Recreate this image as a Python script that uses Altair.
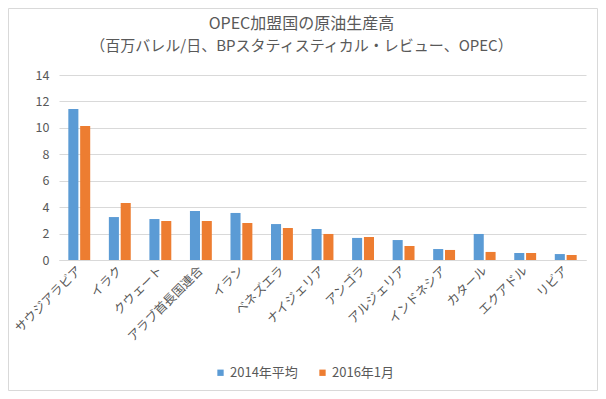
import altair as alt
import pandas as pd

countries = ["サウジアラビア", "イラク", "クウェート", "アラブ首長国連合", "イラン", "ベネズエラ",
             "ナイジェリア", "アンゴラ", "アルジェリア", "インドネシア", "カタール", "エクアドル", "リビア"]
avg2014 = [11.43, 3.25, 3.10, 3.71, 3.56, 2.72, 2.35, 1.67, 1.51, 0.83, 1.97, 0.53, 0.45]
jan2016 = [10.14, 4.31, 2.95, 2.95, 2.80, 2.42, 1.97, 1.74, 1.06, 0.76, 0.61, 0.53, 0.38]
series = ["2014年平均", "2016年1月"]
colors = ["#5B9BD5", "#ED7D31"]
y_ticks = [0, 2, 4, 6, 8, 10, 12, 14]
title_lines = ["OPEC加盟国の原油生産高", "（百万バレル/日、BPスタティスティカル・レビュー、OPEC）"]

rows = []
for c, a, b in zip(countries, avg2014, jan2016):
    rows.append({"country": c, "series": series[0], "value": a})
    rows.append({"country": c, "series": series[1], "value": b})
df = pd.DataFrame(rows)

FONT = "Noto Sans CJK JP"
GRAY = "#595959"

bars = alt.Chart(df).mark_bar().encode(
    x=alt.X("country:N", sort=countries, title=None,
            scale=alt.Scale(paddingInner=0.46, paddingOuter=0.23),
            axis=alt.Axis(labelAngle=-45, labelAlign="right", labelBaseline="middle",
                          labelPadding=8, ticks=False, domainColor="#d9d9d9",
                          labelColor=GRAY, labelFontSize=12.5, labelFont=FONT)),
    xOffset=alt.XOffset("series:N", sort=series, scale=alt.Scale(paddingInner=0.15)),
    y=alt.Y("value:Q", title=None, scale=alt.Scale(domain=[0, 14], nice=False),
            axis=alt.Axis(values=y_ticks, grid=True, gridColor="#d9d9d9", domain=False,
                          ticks=False, labelPadding=10, labelColor=GRAY,
                          labelFontSize=12.5, labelFont=FONT)),
    color=alt.Color("series:N", sort=series,
                    scale=alt.Scale(domain=series, range=colors),
                    legend=alt.Legend(title=None, orient="none", direction="horizontal",
                                      legendX=155, legendY=291, symbolType="square",
                                      symbolSize=40, symbolStrokeWidth=0,
                                      labelFontSize=13, labelColor=GRAY, labelFont=FONT,
                                      columnPadding=18, labelOffset=3)),
)

border = alt.Chart(pd.DataFrame({"b": [0]})).mark_rect(
    fill=None, stroke="#d9d9d9", strokeWidth=1
).encode(x=alt.value(-50.5), x2=alt.value(538.5), y=alt.value(-66.5), y2=alt.value(315.5))

title1 = alt.Chart(pd.DataFrame({"t": [title_lines[0]]})).mark_text(
    font=FONT, fontSize=16, color=GRAY, align="center", baseline="middle"
).encode(text="t:N", x=alt.value(242.5), y=alt.value(-51))

title2 = alt.Chart(pd.DataFrame({"t": [title_lines[1]]})).mark_text(
    font=FONT, fontSize=15, color=GRAY, align="center", baseline="middle"
).encode(text="t:N", x=alt.value(242.5), y=alt.value(-29))

chart = alt.layer(border, bars, title1, title2).properties(
    width=527, height=185,
    autosize=alt.AutoSizeParams(type="none"),
    padding={"left": 51, "top": 67, "right": 12, "bottom": 131},
).configure_view(stroke=None)

chart.save("out.html", embed_options={"renderer": "svg", "actions": False})
